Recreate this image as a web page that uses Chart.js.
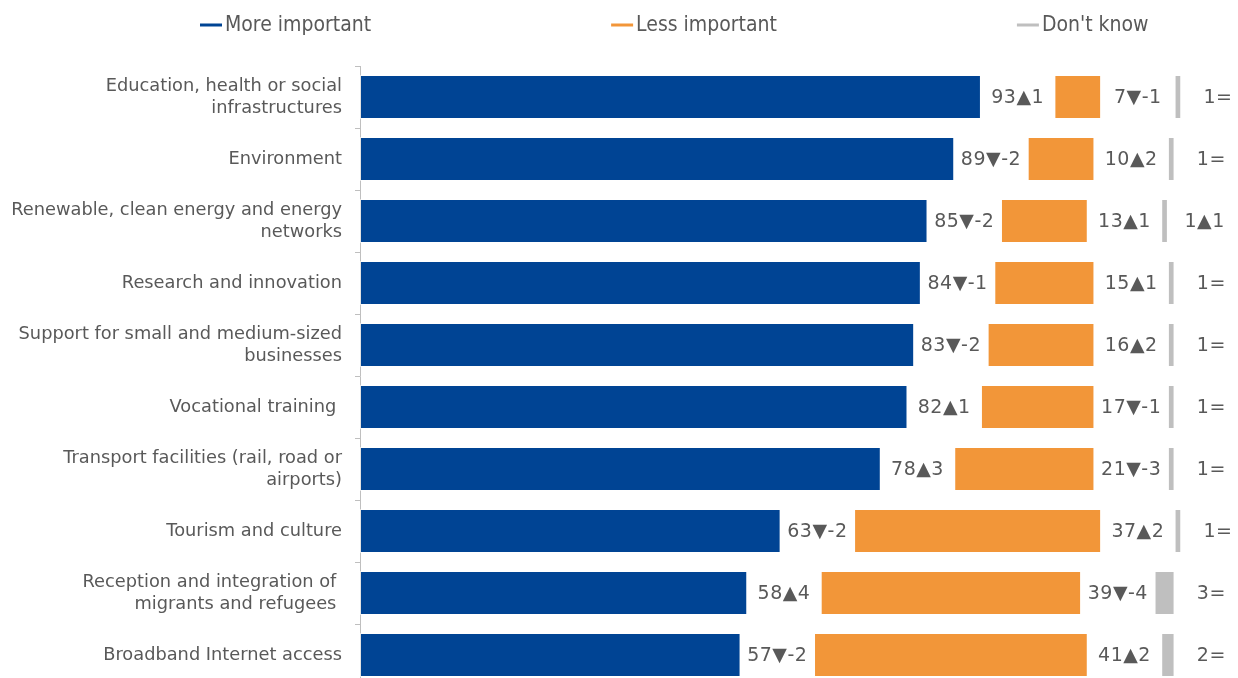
<!DOCTYPE html>
<html>
<head>
<meta charset="utf-8">
<script src="https://cdn.jsdelivr.net/npm/chart.js@4.4.1/dist/chart.umd.min.js"></script>
<style>
html, body { margin: 0; padding: 0; background: #fff; overflow: hidden; }
#wrap { width: 1238px; height: 686px; }
</style>
</head>
<body>
<div id="wrap"><canvas id="chart"></canvas></div>
<script>
var categories = [
    ["Education, health or social", "infrastructures"],
    "Environment",
    ["Renewable, clean energy and energy", "networks"],
    "Research and innovation",
    ["Support for small and medium-sized", "businesses"],
    "Vocational training ",
    ["Transport facilities (rail, road or", "airports)"],
    "Tourism and culture",
    ["Reception and integration of ", "migrants and refugees "],
    "Broadband Internet access"
];
var moreImportant = [93, 89, 85, 84, 83, 82, 78, 63, 58, 57];
var lessImportant = [7, 10, 13, 15, 16, 17, 21, 37, 39, 41];
var dontKnow = [1, 1, 1, 1, 1, 1, 1, 1, 3, 2];
var moreChange = [1, -2, -2, -1, -2, 1, 3, -2, 4, -2];
var lessChange = [-1, 2, 1, 1, 2, -1, -3, 2, -4, 2];
var dontKnowChange = [0, 0, 1, 0, 0, 0, 0, 0, 0, 0];
var seriesNames = ["More important", "Less important", "Don't know"];
var colors = ["#004494", "#F29639", "#BFBFBF"];

var GAP = 11; // empty room between the bars, where the value labels sit
var textColor = "#595959";

// label text like 93▲1, 7▼-1, 1=
function changeLabel(value, change) {
    if (change > 0) return value + "\u25B2" + change;
    if (change < 0) return value + "\u25BC" + change;
    return value + "=";
}

var gapData = categories.map(function () { return GAP; });

function barSet(i, data) {
    return {
        label: seriesNames[i],
        data: data,
        backgroundColor: colors[i],
        borderColor: "rgba(255,255,255,0.55)",
        borderWidth: 1,
        borderSkipped: false,
        stack: "s"
    };
}
function gapSet(name) {
    return { label: name, data: gapData, backgroundColor: "rgba(0,0,0,0)", stack: "s" };
}

// values next to each bar, centred in the gap after it
var valueLabels = {
    id: "valueLabels",
    afterDatasetsDraw: function (chart) {
        var ctx = chart.ctx;
        var xs = chart.scales.x;
        var half = (xs.getPixelForValue(GAP) - xs.getPixelForValue(0)) / 2;
        var sets = [[0, moreImportant, moreChange], [2, lessImportant, lessChange], [4, dontKnow, dontKnowChange]];
        ctx.save();
        ctx.font = "19px 'DejaVu Sans'";
        ctx.letterSpacing = "0.5px";
        ctx.fillStyle = textColor;
        ctx.textAlign = "center";
        ctx.textBaseline = "middle";
        sets.forEach(function (s) {
            var meta = chart.getDatasetMeta(s[0]);
            meta.data.forEach(function (bar, j) {
                ctx.fillText(changeLabel(s[1][j], s[2][j]), bar.x + half, bar.y + 1);
            });
        });
        ctx.restore();
    }
};

// legend in a single row: short line then the name
var lineLegend = {
    id: "lineLegend",
    afterDraw: function (chart) {
        var ctx = chart.ctx;
        ctx.save();
        ctx.font = "21px 'DejaVu Sans Condensed', 'DejaVu Sans'";
        ctx.textBaseline = "middle";
        var x = 200, y = 25;
        seriesNames.forEach(function (name, i) {
            ctx.strokeStyle = colors[i];
            ctx.lineWidth = 3;
            ctx.beginPath();
            ctx.moveTo(x, y);
            ctx.lineTo(x + 22, y);
            ctx.stroke();
            ctx.fillStyle = textColor;
            ctx.fillText(name, x + 25, y + 1);
            x += 25 + ctx.measureText(name).width + 240;
        });
        ctx.restore();
    }
};

new Chart(document.getElementById("chart"), {
    type: "bar",
    data: {
        labels: categories,
        datasets: [
            barSet(0, moreImportant),
            gapSet("gap1"),
            barSet(1, lessImportant),
            gapSet("gap2"),
            barSet(2, dontKnow)
        ]
    },
    options: {
        indexAxis: "y",
        responsive: true,
        maintainAspectRatio: false,
        animation: false,
        layout: { padding: { top: 66, left: 0, right: 0, bottom: 0 } },
        datasets: { bar: { categoryPercentage: 1, barPercentage: 0.71 } },
        scales: {
            x: { stacked: true, display: false, min: 0, max: 131.5 },
            y: {
                stacked: true,
                afterFit: function (scale) {
                    scale.width = 360;
                    scale.paddingTop = 0;
                    scale.paddingBottom = 0;
                },
                grid: { drawOnChartArea: false, tickLength: 5, color: "#BFBFBF", offset: true },
                border: { color: "#BFBFBF" },
                ticks: {
                    autoSkip: false,
                    color: textColor,
                    padding: 13,
                    font: { family: "'DejaVu Sans'", size: 17.8, lineHeight: 1.24 }
                }
            }
        },
        plugins: {
            legend: { display: false },
            tooltip: { enabled: false }
        }
    },
    plugins: [valueLabels, lineLegend]
});
</script>
</body>
</html>
